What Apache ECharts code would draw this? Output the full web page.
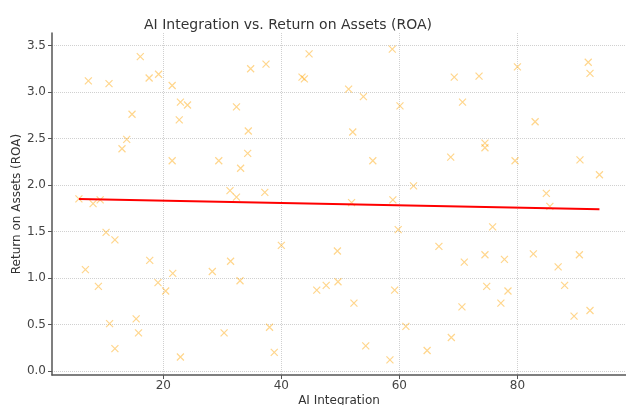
<!DOCTYPE html>
<html>
<head>
<meta charset="utf-8">
<script src="https://cdn.jsdelivr.net/npm/echarts@6/dist/echarts.min.js"></script>
<style>html,body{margin:0;padding:0;background:#fff;}#c{width:626px;height:405px;}</style>
</head>
<body>
<div id="c"></div>
<script>
const aiIntegration = [5.7,7.3,10.8,16.1,17.6,19.2,21.5,14.7,13.8,13.0,22.9,24.1,22.7,21.5,29.4,8.1,9.3,34.8,37.4,44.7,43.5,43.9,58.8,51.4,53.9,60.1,32.4,34.4,52.1,34.3,33.1,55.5,31.3,32.4,37.2,62.4,51.9,58.9,69.3,73.5,80.0,92.0,92.3,70.7,83.0,74.5,74.5,68.7,79.6,90.6,93.9,84.9,85.5,6.8,9.0,10.3,11.8,10.9,11.8,15.4,15.8,17.7,19.1,20.4,21.6,22.9,28.3,31.4,33.0,30.3,38.0,38.8,40.0,49.5,46.0,47.6,49.6,52.3,54.3,58.4,59.2,59.8,61.1,64.7,66.7,68.8,70.6,71.0,74.5,75.8,74.8,77.8,77.2,78.4,82.7,86.9,88.0,89.6,92.3,90.5];
const roa = [1.85,3.12,3.09,3.38,3.15,3.19,3.07,2.76,2.49,2.39,2.89,2.86,2.70,2.26,2.26,1.80,1.84,3.25,3.30,3.41,3.16,3.14,3.46,3.03,2.95,2.85,2.84,2.58,2.57,2.34,2.18,2.26,1.94,1.87,1.92,1.99,1.81,1.84,3.16,3.17,3.27,3.32,3.20,2.89,2.68,2.45,2.40,2.30,2.26,2.27,2.11,1.91,1.77,1.09,0.91,1.49,1.41,0.51,0.24,0.56,0.41,1.19,0.95,0.86,1.05,0.15,1.07,1.18,0.97,0.41,0.47,0.20,1.35,1.29,0.87,0.92,0.96,0.73,0.27,0.12,0.87,1.52,0.48,0.22,1.34,0.36,0.69,1.17,1.25,1.55,0.91,1.20,0.73,0.86,1.26,1.12,0.92,0.59,0.65,1.25];
const trendX = [5.7, 93.9];
const trendY = [1.85, 1.74];
const xTicks = [20, 40, 60, 80];
const yTicks = [0, 0.5, 1.0, 1.5, 2.0, 2.5, 3.0, 3.5];

const chart = echarts.init(document.getElementById('c'), null, {renderer: 'canvas'});
const font = 'DejaVu Sans';
chart.setOption({
  animation: false,
  title: {
    text: 'AI Integration vs. Return on Assets (ROA)',
    left: 283, top: 13, textAlign: 'center',
    textStyle: {fontFamily: font, fontSize: 14, fontWeight: 'normal', color: '#333'}
  },
  grid: {left: 52, right: 0, top: 33, bottom: 30, containLabel: false, outerBoundsMode: 'none'},
  xAxis: {
    type: 'value', min: 1.14, max: 98.4,
    name: 'AI Integration', nameLocation: 'middle', nameGap: 20, nameMoveOverlap: false,
    nameTextStyle: {fontFamily: font, fontSize: 12, color: '#333', verticalAlign: 'top'},
    axisLine: {show: true, onZero: false, lineStyle: {color: '#555', width: 1.5}},
    axisTick: {show: true, length: 4, customValues: xTicks, lineStyle: {color: '#555'}},
    axisLabel: {customValues: xTicks, margin: 5, fontFamily: font, fontSize: 12, color: '#444'},
    splitLine: {show: true, lineStyle: {type: 'dotted', color: '#d0d0d0', width: 1}}
  },
  yAxis: {
    type: 'value', min: -0.043, max: 3.634,
    name: 'Return on Assets (ROA)', nameLocation: 'middle', nameGap: 35, nameMoveOverlap: false,
    nameTextStyle: {fontFamily: font, fontSize: 12, color: '#333', verticalAlign: 'middle'},
    axisLine: {show: true, onZero: false, lineStyle: {color: '#555', width: 1.5}},
    axisTick: {show: true, length: 4, customValues: yTicks, lineStyle: {color: '#555'}},
    axisLabel: {customValues: yTicks, margin: 6, fontFamily: font, fontSize: 12, color: '#444',
      formatter: v => v.toFixed(1)},
    splitLine: {show: true, lineStyle: {type: 'dotted', color: '#d0d0d0', width: 1}}
  },
  series: [
    {
      type: 'scatter',
      data: aiIntegration.map((x, i) => [x, roa[i]]),
      symbol: 'path://M0,0L10,10M10,0L0,10',
      symbolSize: 7,
      itemStyle: {color: 'rgba(0,0,0,0)', borderColor: '#FFA500', borderWidth: 1.2, opacity: 0.45}
    },
    {
      type: 'line',
      data: trendX.map((x, i) => [x, trendY[i]]),
      showSymbol: false, symbol: 'none',
      lineStyle: {color: '#ff0000', width: 2},
      z: 5
    }
  ]
});
</script>
</body>
</html>
